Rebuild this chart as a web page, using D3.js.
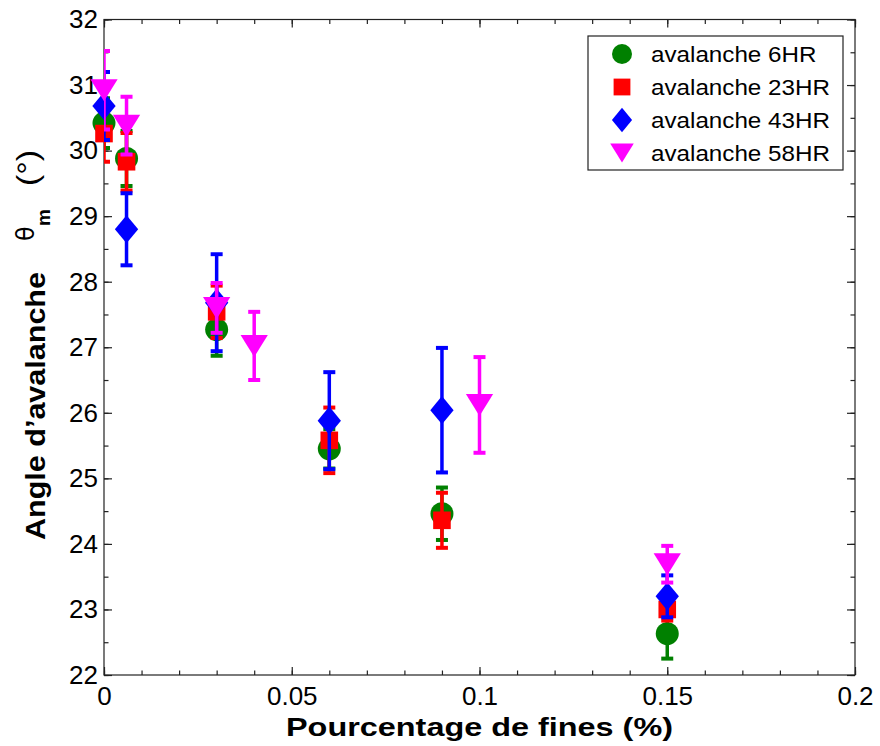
<!DOCTYPE html>
<html><head><meta charset="utf-8">
<script src="https://cdn.jsdelivr.net/npm/d3@7/dist/d3.min.js"></script>
<style>
html,body{margin:0;padding:0;background:#fff;}
svg{display:block;font-family:"Liberation Sans",Arial,Helvetica,sans-serif;}
</style></head>
<body>
<svg id="chart" width="880" height="746"></svg>
<script>
// ---- data ----
const seriesNames = ["avalanche 6HR", "avalanche 23HR", "avalanche 43HR", "avalanche 58HR"];
const x6  = [0, 0.006, 0.03, 0.06, 0.09, 0.15];
const y6  = [30.42, 29.88, 27.27, 25.45, 24.46, 22.63];
const e6  = [0.38, 0.42, 0.40, 0.30, 0.40, 0.38];
const x23 = [0, 0.006, 0.03, 0.06, 0.09, 0.15];
const y23 = [30.26, 29.83, 27.54, 25.58, 24.36, 23.00];
const e23 = [0.43, 0.44, 0.40, 0.50, 0.42, 0.17];
const x43 = [0, 0.006, 0.03, 0.06, 0.09, 0.15];
const y43 = [30.68, 28.80, 27.68, 25.88, 26.04, 23.20];
const e43 = [0.52, 0.55, 0.74, 0.74, 0.95, 0.32];
const x58 = [0, 0.006, 0.03, 0.04, 0.10, 0.15];
const y58 = [30.92, 30.38, 27.60, 27.02, 26.12, 23.69];
const e58 = [0.60, 0.44, 0.38, 0.52, 0.73, 0.28];
const xTicks = [0, 0.05, 0.1, 0.15, 0.2];
const xTickLabels = ["0", "0.05", "0.1", "0.15", "0.2"];
const yTicks = [22, 23, 24, 25, 26, 27, 28, 29, 30, 31, 32];

const colors = ["#008000", "#ff0000", "#0000ff", "#ff00ff"];
const shapes = ["circle", "square", "diamond", "triangleDown"];
const series = [
  {name: seriesNames[0], x: x6,  y: y6,  e: e6},
  {name: seriesNames[1], x: x23, y: y23, e: e23},
  {name: seriesNames[2], x: x43, y: y43, e: e43},
  {name: seriesNames[3], x: x58, y: y58, e: e58}
];

// ---- layout ----
const L = 104, R = 855, T = 19.5, B = 675;
const svg = d3.select("#chart");
const xS = d3.scaleLinear().domain([0, 0.2]).range([L, R]);
const yS = d3.scaleLinear().domain([22, 32]).range([B, T]);

svg.append("defs").append("clipPath").attr("id", "clip")
  .append("rect").attr("x", L).attr("y", T).attr("width", R - L).attr("height", B - T);

function markerPath(shape, s) {
  const p = d3.path();
  if (shape === "circle") { p.arc(0, 0, s * 0.5, 0, 2 * Math.PI); }
  else if (shape === "square") { const h = s * 0.4; p.rect(-h, -h, 2 * h, 2 * h); }
  else if (shape === "diamond") { const w = s * 0.53, h = s * 0.64; p.moveTo(0, -h); p.lineTo(w, 0); p.lineTo(0, h); p.lineTo(-w, 0); p.closePath(); }
  else { const w = s * 0.62, h = s * 0.5; p.moveTo(-w, -h); p.lineTo(w, -h); p.lineTo(0, h); p.closePath(); }
  return p.toString();
}

// ---- axes (ticks inside on all sides) ----
const tickStyle = g => g.selectAll("line").attr("stroke", "#222").attr("stroke-width", 1.2);
const xMinor = d3.range(0, 0.2001, 0.01);
const yMinor = d3.range(22, 32.001, 0.5);
const FONT = '"Liberation Sans",Arial,sans-serif';

svg.append("g").attr("transform", `translate(0,${B})`)
  .call(d3.axisBottom(xS).tickValues(xMinor).tickSize(-4.5).tickFormat(""))
  .call(g => g.select(".domain").remove()).call(tickStyle);
svg.append("g").attr("transform", `translate(0,${B})`)
  .call(d3.axisBottom(xS).tickValues(xTicks).tickSize(-8).tickPadding(12)
    .tickFormat((d, i) => xTickLabels[i]))
  .call(g => g.select(".domain").remove()).call(tickStyle)
  .call(g => g.selectAll("text").attr("font-size", 26).attr("fill", "#000")
    .attr("font-family", FONT).attr("dy", "0.7em"));
svg.append("g").attr("transform", `translate(0,${T})`)
  .call(d3.axisTop(xS).tickValues(xMinor).tickSize(-4.5).tickFormat(""))
  .call(g => g.select(".domain").remove()).call(tickStyle);
svg.append("g").attr("transform", `translate(0,${T})`)
  .call(d3.axisTop(xS).tickValues(xTicks).tickSize(-8).tickFormat(""))
  .call(g => g.select(".domain").remove()).call(tickStyle);

svg.append("g").attr("transform", `translate(${L},0)`)
  .call(d3.axisLeft(yS).tickValues(yMinor).tickSize(-4.5).tickFormat(""))
  .call(g => g.select(".domain").remove()).call(tickStyle);
svg.append("g").attr("transform", `translate(${L},0)`)
  .call(d3.axisLeft(yS).tickValues(yTicks).tickSize(-8).tickPadding(6).tickFormat(d3.format("d")))
  .call(g => g.select(".domain").remove()).call(tickStyle)
  .call(g => g.selectAll("text").attr("font-size", 26).attr("fill", "#000")
    .attr("font-family", FONT).attr("x", -6));
svg.append("g").attr("transform", `translate(${R},0)`)
  .call(d3.axisRight(yS).tickValues(yMinor).tickSize(-4.5).tickFormat(""))
  .call(g => g.select(".domain").remove()).call(tickStyle);
svg.append("g").attr("transform", `translate(${R},0)`)
  .call(d3.axisRight(yS).tickValues(yTicks).tickSize(-8).tickFormat(""))
  .call(g => g.select(".domain").remove()).call(tickStyle);

// frame
svg.append("rect").attr("x", L).attr("y", T).attr("width", R - L).attr("height", B - T)
  .attr("fill", "none").attr("stroke", "#222").attr("stroke-width", 1.2);

// ---- error bars + markers ----
const capW = 6;
series.forEach((s, si) => {
  const g = svg.append("g");
  const pts = s.x.map((xv, i) => ({x: xv, y: s.y[i], e: s.e[i]}));
  const eb = g.append("g").attr("clip-path", "url(#clip)")
    .attr("stroke", colors[si]).attr("fill", "none");
  eb.selectAll(".stem").data(pts).join("line")
    .attr("x1", d => xS(d.x)).attr("x2", d => xS(d.x))
    .attr("y1", d => yS(d.y - d.e)).attr("y2", d => yS(d.y + d.e))
    .attr("stroke-width", 3.5);
  eb.selectAll(".capT").data(pts).join("line")
    .attr("x1", d => xS(d.x) - capW).attr("x2", d => xS(d.x) + capW)
    .attr("y1", d => yS(d.y + d.e)).attr("y2", d => yS(d.y + d.e))
    .attr("stroke-width", 4);
  eb.selectAll(".capB").data(pts).join("line")
    .attr("x1", d => xS(d.x) - capW).attr("x2", d => xS(d.x) + capW)
    .attr("y1", d => yS(d.y - d.e)).attr("y2", d => yS(d.y - d.e))
    .attr("stroke-width", 4);
  g.selectAll(".mk").data(pts).join("path")
    .attr("transform", d => `translate(${xS(d.x)},${yS(d.y)})`)
    .attr("d", markerPath(shapes[si], si === 0 ? 23 : 22))
    .attr("fill", colors[si]);
});

// ---- legend ----
const lg = svg.append("g");
lg.append("rect").attr("x", 588).attr("y", 36).attr("width", 255).attr("height", 134)
  .attr("fill", "#fff").attr("stroke", "#222").attr("stroke-width", 1.2);
const rowY = [54, 87, 120, 153];
series.forEach((s, si) => {
  lg.append("path").attr("transform", `translate(622,${rowY[si]})`)
    .attr("d", markerPath(shapes[si], si === 0 ? 20 : (si === 1 ? 21 : 19)))
    .attr("fill", colors[si]);
  const t = lg.append("text").attr("x", 651).attr("y", rowY[si]).attr("dy", "0.36em")
    .attr("font-size", 22).attr("fill", "#000").text(s.name);
  const w = t.node().getComputedTextLength();
  t.attr("textLength", w * 1.1).attr("lengthAdjust", "spacingAndGlyphs");
});

// ---- axis titles ----
svg.append("text").attr("x", (L + R) / 2).attr("y", 736).attr("text-anchor", "middle")
  .attr("font-size", 26).attr("font-weight", "bold").attr("fill", "#000")
  .attr("textLength", 387).attr("lengthAdjust", "spacingAndGlyphs")
  .text("Pourcentage de fines (%)");

svg.append("text").attr("transform", "translate(45,540) rotate(-90)")
  .attr("font-size", 28).attr("font-weight", "bold").attr("fill", "#000")
  .attr("textLength", 268).attr("lengthAdjust", "spacingAndGlyphs")
  .text("Angle d’avalanche");
svg.append("text").attr("transform", "translate(34,241) rotate(-90)")
  .attr("font-size", 24).attr("fill", "#000").attr("font-family", '"DejaVu Sans",sans-serif')
  .text("θ");
svg.append("text").attr("transform", "translate(50,226) rotate(-90)")
  .attr("font-size", 19).attr("font-weight", "bold").attr("fill", "#000")
  .text("m");
svg.append("text").attr("transform", "translate(38,186) rotate(-90)")
  .attr("font-size", 30).attr("fill", "#000")
  .attr("textLength", 36).attr("lengthAdjust", "spacingAndGlyphs")
  .text("(°)");
</script>
</body></html>
